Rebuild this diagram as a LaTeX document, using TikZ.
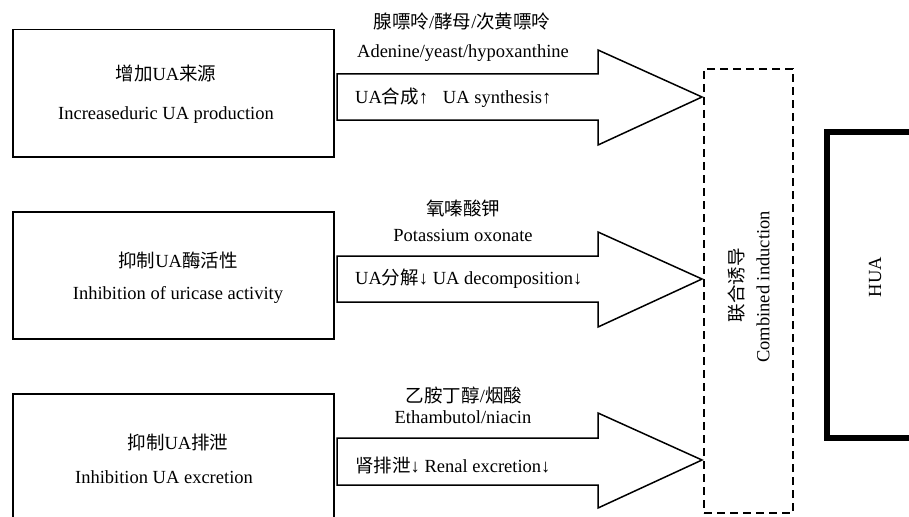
\documentclass[tikz,border=0pt]{standalone}
\usepackage{fontspec}
\setmainfont{Liberation Serif}
\newfontfamily\cjk{Noto Sans CJK SC}
\begin{document}
\begin{tikzpicture}[x=1pt,y=-1pt,
  srcbox/.style={draw,line width=1.5pt,minimum width=321pt,anchor=north west,inner sep=0pt},
  blockarrow/.style={draw,line width=1.5pt,line join=miter,fill=white},
  txt/.style={font=\fontsize{18.5}{22}\selectfont,inner sep=0pt,anchor=center},
  combbox/.style={draw,line width=2.5pt,dash pattern=on 8pt off 5pt,inner sep=0pt},
  huabox/.style={draw,line width=5.5pt,inner sep=0pt}]
\useasboundingbox (0,0) rectangle (909,516);
\clip (0,0) rectangle (909,516);

% source boxes
\node[srcbox,minimum height=127pt] (b1) at (12,29) {};
\node[srcbox,minimum height=127pt] (b2) at (12,211) {};
\node[srcbox,minimum height=140pt] (b3) at (12,393) {};

\node[txt] (b1a) at (166,73) {{\cjk 增加}UA{\cjk 来源}};
\node[txt] (b1b) at (166,115) {Increaseduric UA production};
\node[txt] (b2a) at (178,260) {{\cjk 抑制}UA{\cjk 酶活性}};
\node[txt] (b2b) at (178,295) {Inhibition of uricase activity};
\node[txt] (b3a) at (178,442) {{\cjk 抑制}UA{\cjk 排泄}};
\node[txt] (b3b) at (164,477) {Inhibition UA excretion};

% combined induction box
\node[combbox,minimum width=89pt,minimum height=444pt] (comb) at (748.5,291) {};
\node[txt,rotate=90] (comba) at (737,285) {{\cjk 联合诱导}};
\node[txt,rotate=90] (combb) at (763,287) {Combined induction};

% HUA box
\node[huabox,anchor=north west,minimum width=120pt,minimum height=306pt] (hua) at (824,129) {};
\node[txt,rotate=90] (hual) at (875,277) {HUA};

% block arrows
\coordinate (t1) at (702,97);
\coordinate (t2) at (702,279);
\coordinate (t3) at (702,460);
\draw[blockarrow] (337,74) -- (598,74) -- (598,50) -- (t1) -- (598,145) -- (598,120) -- (337,120) -- cycle;
\draw[blockarrow] (337,256) -- (598,256) -- (598,232) -- (t2) -- (598,327) -- (598,302) -- (337,302) -- cycle;
\draw[blockarrow] (337,438) -- (598,438) -- (598,413) -- (t3) -- (598,508) -- (598,485) -- (337,485) -- cycle;

% arrow labels
\node[txt] (l1a) at (462,22) {{\cjk 腺嘌呤}/{\cjk 酵母}/{\cjk 次黄嘌呤}};
\node[txt] (l1b) at (463,53) {Adenine/yeast/hypoxanthine};
\node[txt,anchor=west] (l1c) at (355,98) {UA{\cjk 合成}↑\hspace{0.8em}UA synthesis↑};

\node[txt] (l2a) at (463,208) {{\cjk 氧嗪酸钾}};
\node[txt] (l2b) at (463,235) {Potassium oxonate};
\node[txt,anchor=west] (l2c) at (355,279) {UA{\cjk 分解}↓ UA decomposition↓};

\node[txt] (l3a) at (464,395) {{\cjk 乙胺丁醇}/{\cjk 烟酸}};
\node[txt] (l3b) at (463,417) {Ethambutol/niacin};
\node[txt,anchor=west] (l3c) at (355,465) {{\cjk 肾排泄}↓ Renal excretion↓};
\end{tikzpicture}
\end{document}
